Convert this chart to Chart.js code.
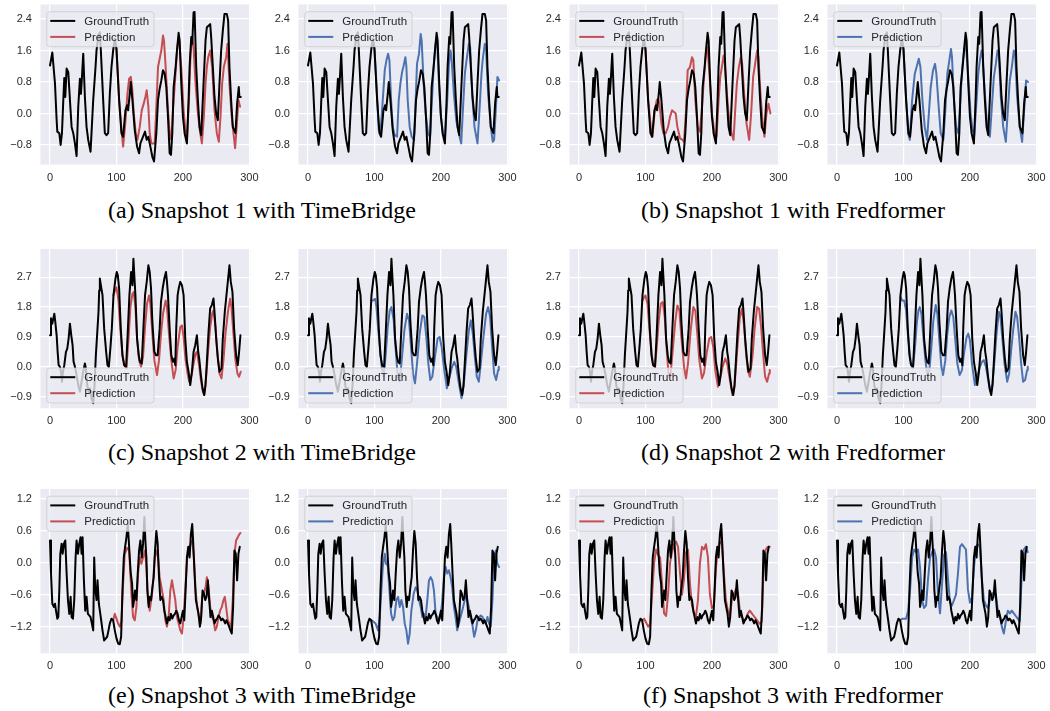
<!DOCTYPE html>
<html><head><meta charset="utf-8">
<script src="https://cdn.jsdelivr.net/npm/chart.js@4"></script>
<style>
html,body{margin:0;padding:0;background:#fff;}
body{width:1050px;height:711px;overflow:hidden;position:relative;}
canvas{position:absolute;}
.cap{position:absolute;font-family:"Liberation Serif","Times New Roman",serif;font-size:24px;line-height:24px;color:#000;white-space:nowrap;transform:translateX(-50%);}
</style></head><body>
<script>
// ---------------- DATA ----------------
const seriesNames = ["GroundTruth", "Prediction"];
const captions = ["(a) Snapshot 1 with TimeBridge", "(b) Snapshot 1 with Fredformer",
  "(c) Snapshot 2 with TimeBridge", "(d) Snapshot 2 with Fredformer",
  "(e) Snapshot 3 with TimeBridge", "(f) Snapshot 3 with Fredformer"];
const xTicks = [0, 100, 200, 300];
const yTicksS1 = [-0.8, 0.0, 0.8, 1.6, 2.4];
const yTicksS2 = [-0.9, 0.0, 0.9, 1.8, 2.7];
const yTicksS3 = [-1.2, -0.6, 0.0, 0.6, 1.2];

const gt1 = [[0,1.22],[3.5,1.55],[7.5,0.76],[10,-0.17],[11,-0.46],[14,-0.5],[16,-0.8],[18,-0.5],[20,0.34],[21.5,0.9],[23,0.42],[25,1.14],[27.5,1.05],[30,0.34],[32.5,-0.34],[35,-0.5],[37.5,-0.76],[40,-1.08],[42.5,0.17],[45,0.88],[46.5,0.5],[48,0.9],[50,1.52],[52.5,0.42],[55,-0.34],[57.5,-0.67],[61,-0.97],[65,0.34],[68.5,1.18],[70,1.6],[73,2.0],[75,2.06],[76.5,1.6],[80,0.34],[82.5,-0.5],[85,-0.55],[87.5,-0.5],[90,0.5],[92.5,1.18],[95,1.6],[97.5,1.9],[100,1.64],[104,0.34],[107.5,-0.5],[110,-0.59],[113.5,0.08],[116,0.21],[117.5,0.08],[120,0.5],[121.5,0.8],[124,0.34],[127.5,-0.42],[131,-0.84],[134,-1.01],[136,-0.76],[140,-0.59],[143,-0.46],[145.5,-0.67],[148,-0.59],[151,-0.84],[154,-1.1],[156.5,-1.22],[160,-0.5],[162.5,0.34],[165,0.63],[167.5,0.84],[170,1.1],[172.5,1.01],[175,0.67],[177.5,-0.08],[180,-1.01],[182,-1.05],[184,-0.5],[186,0.67],[189,1.18],[191,1.6],[193.5,2.05],[195,1.85],[197.5,0.76],[200,-0.08],[202.5,-0.5],[206,-0.76],[208.5,0.34],[210,1.18],[212.5,1.94],[214,1.77],[216,2.57],[217.5,2.58],[220,1.18],[222.5,0.34],[225,-0.34],[227.5,-0.55],[231,0.76],[234,1.85],[236,2.19],[238.5,2.23],[241,2.27],[242.5,1.94],[245,1.18],[247.5,0.42],[250,0],[252.5,-0.17],[255,0.76],[257.5,1.6],[260,2.1],[262.5,2.53],[266,2.53],[268,2.36],[270,1.18],[272.5,0.34],[275,-0.34],[279,-0.5],[281.5,0.25],[284,0.67],[285,0.42],[287,0.42]];

const predA1 = [[97.5,1.9],[100,1.64],[104,0.34],[107.5,-0.4],[110,-0.84],[113,-0.3],[116.5,0.5],[119,0.88],[121.5,0.93],[123.5,0.68],[126,0],[129,-0.5],[131.5,-0.67],[135,-0.34],[138,0.08],[141,0.25],[143.5,0.42],[145.5,0.59],[148,0.17],[150,-0.5],[152.5,-0.76],[157.5,-0.76],[160,0.17],[162.5,1.18],[165,1.39],[167.5,1.6],[170,1.98],[171.5,1.85],[174,1.18],[177.5,0.08],[180,-0.5],[182.5,-0.67],[185,0.08],[188.5,0.93],[191.5,1.68],[194,1.94],[197.5,1.18],[201,0.08],[204,-0.5],[206,-0.67],[209,0.34],[211.5,1.52],[214,1.94],[216,1.68],[219,0.76],[222.5,0],[226,-0.5],[228.5,-0.76],[231.5,-0.08],[234,0.76],[236,1.18],[238,1.43],[241,1.6],[244,1.18],[247.5,0.08],[251,-0.5],[254,-0.72],[256.5,-0.08],[259,0.76],[261.5,1.18],[265,1.43],[267,1.77],[270,0.76],[273,0],[276,-0.5],[278.5,-0.88],[281,-0.3],[283.5,0.34],[286,0.17]];
const predA2 = [[97.5,1.9],[100,1.64],[104,0.42],[106.5,-0.42],[109,-0.5],[112.5,0.34],[115.5,1.1],[118,1.35],[120.5,1.52],[122.5,1.35],[125,0.34],[127.5,-0.34],[130.5,-0.55],[134,-0.59],[136.5,0.34],[139,0.76],[141.5,1.05],[144,1.22],[146.5,1.43],[148,1.2],[150,0.34],[153,-0.34],[156,-0.59],[159.5,-0.67],[162,0.34],[164,1.26],[167,1.52],[169.5,2.02],[171,1.85],[174,0.76],[177,0],[180.5,-0.5],[183.5,-0.59],[186.5,0.34],[189,1.18],[192,1.77],[194,1.94],[197,0.76],[199.5,0],[203,-0.5],[206,-0.63],[209.5,0.34],[212,1.26],[214.5,1.6],[216,1.39],[219.5,0.5],[223,-0.17],[227,-0.5],[230.5,-0.76],[233,0.08],[236,1.01],[238.5,1.35],[242,1.77],[244,1.68],[247,0.5],[250.5,-0.34],[255,-0.76],[258,0.08],[261,1.01],[263,1.39],[266,1.77],[268,1.6],[271,0.5],[275,-0.34],[278,-0.72],[280,-0.67],[282.5,0.08],[285,0.93],[287.5,0.84]];
const predB1 = [[97.5,1.9],[100,1.64],[104,0.34],[108,-0.34],[110.5,-0.59],[114,0.08],[117,0.34],[119,0.38],[121,0.25],[124,-0.25],[127,-0.5],[130.5,-0.5],[134,-0.34],[137,-0.08],[140,0.08],[143,0.04],[145.5,0],[148,-0.34],[152,-0.63],[156,-0.67],[158,-0.72],[161,0.08],[163.5,1.1],[167,1.18],[170,1.43],[172,1.35],[175,0.34],[178.5,-0.34],[182,-0.46],[185,0.17],[188.5,1.01],[191,1.52],[193.5,1.68],[196.5,0.93],[200,0],[203.5,-0.46],[207,-0.59],[210,0.34],[212.5,0.93],[215,1.18],[217.5,1.47],[219.5,1.26],[222.5,0.5],[226,-0.17],[229.5,-0.5],[232.5,-0.67],[235,0.08],[237.5,0.76],[240.5,1.18],[243.5,1.43],[245.5,1.26],[248.5,0.5],[252,-0.25],[256,-0.67],[259,0],[262,0.93],[265,1.26],[268,1.6],[270,1.43],[273,0.5],[276,-0.17],[279,-0.59],[282,0],[285,0.25],[288,0]];
const predB2 = [[97.5,1.9],[100,1.64],[104,0.34],[107,-0.5],[109.5,-0.67],[113,0.34],[117,1.01],[121,1.26],[123,1.39],[125.5,1.18],[128.5,0.34],[132,-0.34],[135.5,-0.67],[138.5,0.08],[141,0.67],[144.5,1.1],[147.5,1.26],[149.5,1.01],[153,0.17],[156,-0.5],[160,-0.67],[163,0.08],[166,1.01],[169,1.35],[171.5,1.64],[173,1.43],[176,0.34],[179,-0.34],[182.5,-0.5],[185,0.17],[188.5,1.18],[191.5,1.6],[194,1.77],[197.5,0.93],[201,0],[204,-0.42],[206.5,-0.55],[210,0.34],[212.5,1.01],[215,1.35],[217.5,1.6],[219,1.47],[222.5,0.5],[226,-0.34],[230,-0.59],[233,0.17],[236,0.93],[239,1.26],[241.5,1.6],[243.5,1.52],[246.5,0.42],[250,-0.34],[254,-0.72],[257,0.08],[260,0.84],[263,1.18],[266,1.6],[268,1.52],[271,0.42],[275,-0.34],[278.5,-0.72],[281.5,0.08],[284.5,0.84],[287.5,0.8]];

const gt2 = [[0,0.95],[1.5,1.46],[3.5,1.3],[5,1.46],[6.5,1.6],[8,1.35],[10,0.95],[11.5,0.45],[13,0.05],[15,0],[16.5,-0.15],[18,-0.45],[19.5,-0.15],[21.5,0.05],[24,0.45],[26,0.55],[28,0.85],[30,1.3],[32,0.95],[34,0.65],[35.5,0.15],[37.5,0],[40,-0.25],[42.5,-0.55],[45,-0.75],[47.5,-0.45],[50,-0.15],[52.5,0.1],[54,-0.05],[56,-0.55],[58,-0.75],[60,-0.65],[62.5,-0.95],[65,-1.1],[67,-0.55],[69,0.35],[71,1.0],[73,1.66],[74,2.3],[75,2.66],[77,2.4],[79,2.16],[81.5,1.15],[84.5,0.45],[86.5,0.05],[88.5,0],[91,0.6],[93,1.15],[95.5,2.16],[98.5,2.66],[100.5,2.86],[102,2.76],[104,2.36],[106.5,1.15],[109,0.35],[111.5,0.05],[114.5,0],[117,1.05],[119.5,2.16],[122,2.86],[124,2.46],[125.5,3.26],[127,2.7],[128.5,2.16],[131,0.85],[133.5,0.35],[135.5,0.15],[138,0.1],[140.5,1.15],[143,2.16],[145.5,2.56],[148,3.06],[150,2.86],[152,2.36],[154,1.36],[157,0.45],[159.5,0.35],[162,0.35],[165,1.15],[167,1.96],[169.5,2.36],[172,2.66],[174.5,2.86],[176,2.56],[177.5,2.16],[180,1.15],[182.5,0.35],[185,0.15],[187,0.25],[188.5,0.05],[190,1.2],[192,2.16],[194,2.4],[196,2.56],[198.5,2.46],[201,2.16],[203.5,0.85],[206,0.15],[208.5,-0.15],[211,-0.55],[213.5,-0.15],[216,0.45],[218.5,0.65],[221,0.95],[223,0.45],[224.5,0.25],[227,-0.25],[229.5,-0.65],[232,-0.85],[234,-0.55],[236,0.15],[238.5,1.05],[241,1.76],[243.5,1.86],[246,2.06],[247.5,1.66],[250,0.85],[252.5,0.25],[255,-0.15],[258,-0.05],[260,0.85],[263,1.66],[265,2.06],[268,2.66],[270,3.06],[272,2.56],[274.5,2.26],[277,1.15],[280,0.35],[282.5,0.05],[284.5,0.45],[286.5,0.95]];

const predC1 = [[95.5,2.16],[98,2.3],[100,2.4],[103,2.0],[106,1.1],[109,0.35],[112,0.05],[115,-0.05],[118,0.8],[121,1.8],[124,2.2],[126,2.25],[128.5,1.8],[131,0.85],[134,0.2],[137,0.0],[140,0.3],[143,1.2],[146,1.9],[149,2.15],[151,1.9],[154,1.0],[157,0.2],[161,-0.25],[164,0.2],[167,1.0],[170,1.6],[174,2.0],[176,1.8],[179,1.0],[182.5,0.2],[186,-0.35],[189,-0.1],[192,0.6],[196,1.2],[198.5,1.25],[201,0.9],[204,0.2],[207,-0.2],[209.5,-0.45],[213,-0.25],[216,0.1],[219,0.4],[221,0.45],[224,0.1],[227,-0.4],[230,-0.75],[232,-0.85],[235,-0.3],[238,0.5],[241,1.2],[244,1.6],[246,1.7],[249,1.2],[252,0.4],[255,-0.2],[258,-0.35],[261,0.2],[264,1.0],[268,1.7],[271,2.05],[273,1.8],[276,1.0],[279,0.2],[282,-0.2],[284.5,-0.3],[287,-0.15]];
const predC2 = [[95.5,2.0],[98,2.0],[101,2.05],[103,1.8],[107,0.8],[111,0.0],[114,-0.3],[117,0.4],[120,1.2],[123,1.7],[125.5,1.8],[129,1.4],[132,0.5],[135,-0.3],[138,-0.45],[141,0.2],[145,1.1],[149,1.6],[152,1.4],[155,0.6],[158,-0.2],[161,-0.5],[164,0.1],[168,1.0],[172,1.55],[175,1.5],[178,0.9],[181,0.1],[184,-0.4],[187,-0.3],[191,0.3],[195,0.85],[198,0.9],[201,0.6],[205,-0.1],[209,-0.65],[212,-0.4],[216,-0.05],[220,0.15],[223,0.0],[227,-0.5],[231,-0.95],[234,-0.6],[238,0.3],[242,1.1],[245,1.4],[248,1.0],[251,0.3],[254,-0.3],[257,-0.45],[260,0.1],[264,0.9],[268,1.6],[271,1.8],[274,1.5],[277,0.6],[280,-0.2],[283,-0.4],[286,-0.1],[287,0.0]];
const predD1 = [[95.5,2.0],[98,2.1],[100,2.15],[103,1.9],[107,0.9],[111,0.1],[114,0.0],[117,0.6],[120,1.4],[123,1.9],[126,1.95],[129,1.5],[132,0.5],[135,-0.3],[138,-0.2],[141,0.5],[145,1.4],[148,1.85],[151,1.7],[154,0.9],[158,0.0],[161,-0.35],[164,0.1],[168,1.1],[172,1.8],[175,1.7],[178,1.0],[181,0.2],[185,-0.35],[188,-0.2],[192,0.4],[196,0.85],[199,0.9],[202,0.6],[205,-0.1],[209,-0.6],[212,-0.4],[216,0.0],[220,0.25],[223,0.1],[227,-0.4],[231,-0.85],[234,-0.6],[238,0.5],[242,1.5],[245,1.75],[248,1.3],[251,0.5],[254,-0.1],[257,-0.3],[261,0.3],[264,1.1],[268,1.8],[271,1.75],[274,1.2],[277,0.4],[280,-0.3],[283,-0.45],[286,-0.2],[287,-0.1]];
const predD2 = [[95.5,2.1],[98,2.0],[101,2.0],[104,1.7],[107,0.9],[111,0.1],[114,-0.05],[117,0.5],[120,1.3],[122.5,1.7],[124.5,1.8],[127,1.6],[130,0.9],[133,0.2],[136,-0.25],[139,-0.1],[142,0.6],[145,1.4],[148.5,1.86],[151,1.6],[154,0.8],[157,0.0],[159.5,-0.25],[163,0.2],[166,1.0],[169,1.5],[172,1.7],[175,1.5],[178,0.8],[181,0.1],[184.5,-0.25],[188,-0.1],[191,0.4],[195,0.9],[197.5,1.0],[200,0.8],[203,0.1],[207.5,-0.55],[211,-0.3],[215,0.0],[218,0.15],[221,0.2],[224,0.0],[227.5,-0.4],[231,-0.75],[234,-0.5],[237,0.2],[240,1.0],[243.5,1.66],[246,1.5],[249,0.8],[252,0.1],[256,-0.45],[259,-0.2],[262,0.5],[265,1.1],[268.5,1.66],[271,1.5],[274,0.9],[277,0.1],[280,-0.45],[283,-0.4],[286,-0.1],[287,0.0]];

const gt3 = [[0,0.42],[1.5,-0.2],[3.5,-0.77],[6,-0.83],[7.5,-0.77],[9,-0.9],[11,-1.05],[12.5,-1.02],[14,-0.52],[15.5,0.17],[17.5,0.36],[19,0.17],[21,0.36],[23,0.42],[25,-0.2],[27,-0.7],[29,-0.96],[31,-0.64],[32.5,-1.02],[34.5,-1.05],[36.5,-0.7],[38.5,0.1],[40,0.42],[42,0.17],[44,0.36],[46,0.48],[47.5,0.17],[49,0.48],[51,-0.33],[53,-0.9],[55,-0.64],[57,-0.96],[59,-0.99],[61,-1.02],[63,-1.14],[65,-1.27],[66.5,0.1],[68,-0.46],[70,-0.7],[71.5,-0.33],[73.5,-0.77],[75,-0.9],[77,-1.08],[79,-1.27],[81.5,-1.46],[84,-1.42],[86,-1.39],[88,-1.27],[90,-1.14],[92.5,-1.05],[95,-1.08],[97.5,-1.27],[100,-1.42],[102.5,-1.52],[105,-1.53],[107,-1.39],[109,-0.52],[111,0.1],[113,0.3],[115,0.48],[117,0.73],[118.5,0.42],[120,0.1],[121.5,-0.2],[123.5,-0.39],[125,-0.83],[126.5,-0.7],[128,-0.52],[130,-0.7],[132,-0.2],[134,0.23],[136,0.42],[138,0.1],[140,0.36],[142,0.86],[143.5,0.42],[145,0.1],[146.5,-0.52],[148.5,-0.83],[150,-0.64],[152,-0.7],[154,-0.46],[156,-0.27],[158,0.23],[160,0.6],[162,0.36],[164,-0.27],[166,-0.7],[168,-0.64],[170,-0.7],[172,-0.9],[174,-1.02],[176,-1.14],[178,-1.02],[180,-1.08],[182,-0.96],[184,-1.05],[186,-0.99],[188,-0.96],[190,-0.9],[192,-0.96],[194,-1.08],[196,-1.14],[198,-1.02],[200,-0.9],[202,-1.08],[204,-0.52],[206,0.1],[208,0.3],[210,0.1],[212,0.54],[214,0.73],[215.5,0.36],[217.5,-0.2],[219.5,-0.7],[221.5,-0.83],[223.5,-0.96],[225.5,-1.2],[227.5,-1.02],[229.5,-0.52],[231.5,-0.58],[233.5,-0.7],[235.5,-0.64],[237.5,-0.33],[239.5,-0.7],[241.5,-1.02],[243.5,-0.9],[245.5,-1.02],[247.5,-1.14],[249.5,-1.08],[251.5,-1.05],[253.5,-0.99],[255.5,-1.02],[257.5,-1.08],[259.5,-1.05],[261.5,-1.08],[263.5,-1.14],[265.5,-1.08],[267.5,-1.14],[269.5,-1.2],[271.5,-1.27],[273.5,-1.33],[275.5,-0.83],[277.5,0.23],[279.5,0.17],[281.5,-0.33],[283.5,0.17],[285.5,0.3]];

const predE1 = [[95,-1.08],[97.5,-0.96],[100,-1.05],[102.5,-1.14],[105,-1.2],[107.5,-1.1],[110,-0.4],[112.5,0.17],[116,0.28],[119,0.23],[122.5,-0.58],[125,-1.02],[127.5,-1.08],[130,-0.83],[132.5,-0.2],[135,0.1],[137.5,-0.02],[140,0.1],[143,0.23],[145,-0.08],[147.5,-0.7],[150,-0.9],[153,-0.64],[155,-0.39],[157.5,0.1],[160,0.23],[162.5,0.1],[165,-0.27],[168.5,-0.52],[171,-0.7],[173.5,-1.08],[176,-1.2],[178.5,-1.02],[181,-0.52],[183.5,-0.33],[186,-0.52],[188.5,-0.7],[191,-1.02],[193.5,-1.14],[196,-1.27],[198.5,-1.33],[201,-1.02],[204,-0.39],[206.5,0.1],[209,0.23],[211.5,0.36],[214,0.42],[216.5,0.1],[219,-0.52],[221.5,-0.83],[224,-1.02],[226.5,-1.14],[229,-0.64],[231.5,-0.58],[234,-0.46],[236,-0.27],[238.5,-0.46],[241,-0.83],[243.5,-1.02],[246,-1.08],[248.5,-1.27],[251,-1.2],[253.5,-1.02],[256,-0.9],[258.5,-0.83],[261,-0.7],[263,-0.64],[265,-0.83],[267.5,-1.08],[270,-1.14],[272.5,-1.2],[275,-0.7],[277.5,0.17],[280,0.42],[282.5,0.48],[285,0.54],[286.5,0.56]];
const predE2 = [[95,-1.08],[98,-1.1],[101.5,-1.14],[105.5,-1.27],[108,-1.0],[110,-0.6],[112.5,-0.08],[115.5,0.17],[117.5,-0.02],[120,-0.05],[122.5,-0.52],[125,-0.96],[127.5,-1.08],[130,-1.02],[133,-0.7],[135.5,-0.64],[138,-0.83],[140.5,-0.7],[143,-0.83],[145.5,-1.14],[148,-1.27],[150.5,-1.52],[153,-1.33],[155.5,-0.9],[159,-0.58],[162,-0.46],[164.5,-0.52],[167,-0.7],[169.5,-0.83],[172,-1.02],[174.5,-0.96],[177,-1.02],[179.5,-0.7],[182,-0.33],[184.5,-0.27],[187,-0.33],[189.5,-0.52],[192,-0.96],[194.5,-1.02],[197,-1.08],[199.5,-1.02],[202,-0.7],[204.5,-0.27],[207,-0.08],[209.5,-0.2],[212,-0.14],[214.5,-0.27],[217,-0.46],[219.5,-0.83],[222,-1.02],[224.5,-1.27],[227,-1.14],[229.5,-1.02],[232,-0.9],[234.5,-0.77],[237,-0.64],[239.5,-0.7],[242,-0.83],[244.5,-1.02],[247,-1.14],[250,-1.39],[252.5,-1.27],[255,-1.08],[257.5,-1.02],[260,-0.99],[262.5,-1.02],[265,-1.08],[267.5,-1.14],[270,-1.02],[272.5,-1.14],[275,-1.2],[277.5,-0.7],[280,0.1],[282.5,0.23],[285,-0.02],[287.5,-0.08]];
const predF1 = [[95,-1.08],[98,-1.05],[100,-1.1],[104,-1.2],[107,-1.15],[110,-0.6],[113,0.0],[116,0.25],[119,0.15],[122,0.1],[125,-0.4],[128,-0.95],[131,-1.0],[134,-0.6],[137,0.0],[140,0.2],[143,0.35],[146,0.4],[149,0.3],[152,-0.2],[155,-0.6],[158,-0.3],[161,0.2],[164,0.25],[167,-0.4],[170,-0.8],[173,-0.95],[176,-1.0],[179,-0.7],[182,0.0],[185,0.3],[188,0.25],[191,0.35],[194,0.1],[197,-0.6],[200,-0.85],[203,-0.8],[206,-0.1],[209,0.25],[212,0.4],[215,0.35],[218,-0.2],[221,-0.7],[224,-0.9],[227,-1.0],[230,-0.7],[233,-0.6],[236,-0.5],[239,-0.55],[242,-0.9],[245,-1.0],[248,-1.1],[251,-1.05],[254,-0.95],[257,-0.9],[260,-0.95],[263,-1.0],[266,-1.05],[269,-1.1],[272,-1.15],[275,-1.1],[278,0.0],[281,0.25],[284,0.3],[287,0.3]];
const predF2 = [[95,-1.08],[98,-1.05],[100,-1.05],[104,-1.05],[107,-0.9],[110,-0.5],[113,0.1],[116,0.25],[119,0.2],[122,0.25],[125,-0.1],[128,-0.7],[131,-0.85],[134,-0.8],[137,-0.3],[140,0.1],[143,0.2],[146,0.25],[149,0.1],[152,-0.6],[155,-0.95],[158,-0.4],[161,0.15],[164,0.2],[167,-0.3],[170,-0.75],[173,-0.8],[176,-0.7],[179,-0.6],[182,-0.2],[185,0.3],[188,0.35],[191,0.3],[194,0.25],[197,-0.5],[200,-0.75],[203,-0.65],[206,-0.1],[209,0.3],[212,0.35],[215,0.3],[218,-0.3],[221,-0.7],[224,-0.8],[227,-0.85],[230,-0.7],[233,-0.6],[236,-0.55],[239,-0.6],[242,-0.9],[245,-1.0],[248,-1.2],[251,-1.33],[254,-1.1],[257,-0.9],[260,-0.95],[263,-0.9],[266,-0.95],[269,-1.0],[272,-1.05],[275,-1.1],[278,-0.2],[281,0.25],[284,0.3],[287,0.2]];

// ---------------- LAYOUT / STYLE ----------------
const groundTruths = [gt1, gt2, gt3];
const predictions = [[predA1, predA2, predB1, predB2], [predC1, predC2, predD1, predD2], [predE1, predE2, predF1, predF2]];
const yTickSets = [yTicksS1, yTicksS2, yTicksS3];
const RED = '#C44E52', BLUE = '#4C72B0', GT_COLOR = '#000000';
const colZero = [50, 308, 579, 837];
const PX_PER_X = 199.4 / 300;
const X_MIN = -14.35, X_MAX = 301.35;
const rowGeom = [
  {top: 4.5, bottom: 164.5, zero: 113.5, ppu: 39.375, legend: 'upper'},
  {top: 249, bottom: 408.3, zero: 366.8, ppu: 33.17, legend: 'lower'},
  {top: 489, bottom: 653.3, zero: 562.8, ppu: 53.2, legend: 'upper'}
];
const capPos = [[262, 198], [793, 198], [262, 440], [793, 440], [262, 683], [793, 683]];
const TICK_FONT = {family: '"Liberation Sans", Arial, sans-serif', size: 11};
const TICK_COLOR = '#2a2a2a';

const bgPlugin = {
  id: 'plotBg',
  beforeDraw(chart) {
    const {ctx, chartArea: a} = chart;
    ctx.save();
    ctx.fillStyle = '#EAEAF2';
    ctx.fillRect(a.left, a.top, a.right - a.left, a.bottom - a.top);
    ctx.restore();
  }
};

function rrect(ctx, x, y, w, h, r) {
  ctx.beginPath();
  ctx.moveTo(x + r, y);
  ctx.lineTo(x + w - r, y); ctx.arcTo(x + w, y, x + w, y + r, r);
  ctx.lineTo(x + w, y + h - r); ctx.arcTo(x + w, y + h, x + w - r, y + h, r);
  ctx.lineTo(x + r, y + h); ctx.arcTo(x, y + h, x, y + h - r, r);
  ctx.lineTo(x, y + r); ctx.arcTo(x, y, x + r, y, r);
  ctx.closePath();
}

const legendPlugin = {
  id: 'boxLegend',
  afterDraw(chart, args, opts) {
    const {ctx, chartArea: a} = chart;
    ctx.save();
    ctx.font = '11.5px "Liberation Sans", Arial, sans-serif';
    let tw = 0;
    chart.data.datasets.forEach(d => { tw = Math.max(tw, ctx.measureText(d.label).width); });
    const w = 37.5 + tw + 5, h = 35;
    const x0 = a.left + 6.3;
    const y0 = opts.pos === 'lower' ? a.bottom - 5.3 - h : a.top + 7.2;
    rrect(ctx, x0, y0, w, h, 3);
    ctx.fillStyle = 'rgba(234,234,242,0.8)';
    ctx.fill();
    ctx.strokeStyle = 'rgba(204,204,204,0.8)';
    ctx.lineWidth = 1;
    ctx.stroke();
    chart.data.datasets.forEach((d, i) => {
      const yy = y0 + 9.2 + i * 16;
      ctx.beginPath();
      ctx.moveTo(x0 + 3.5, yy); ctx.lineTo(x0 + 28.5, yy);
      ctx.strokeStyle = d.borderColor; ctx.lineWidth = 2;
      ctx.stroke();
      ctx.fillStyle = '#262626';
      ctx.textBaseline = 'middle';
      ctx.textAlign = 'left';
      ctx.fillText(d.label, x0 + 37.5, yy + 0.5);
    });
    ctx.restore();
  }
};

function toXY(arr) { return arr.map(p => ({x: p[0], y: p[1]})); }
function fmtY(v) { return v.toFixed(1).replace('-', '\u2212'); }

function makePanel(r, c) {
  const g = rowGeom[r];
  const L = colZero[c] + X_MIN * PX_PER_X;
  const R = colZero[c] + X_MAX * PX_PER_X;
  const T = g.top, B = g.bottom;
  const yMax = (g.zero - T) / g.ppu, yMin = -(B - g.zero) / g.ppu;
  const cx = Math.floor(L) - 45, cy = Math.floor(T) - 20;
  const cw = Math.ceil(R) + 25 - cx, ch = Math.ceil(B) + 25 - cy;
  const cv = document.createElement('canvas');
  cv.width = cw; cv.height = ch;
  cv.style.left = cx + 'px'; cv.style.top = cy + 'px';
  cv.style.width = cw + 'px'; cv.style.height = ch + 'px';
  document.body.appendChild(cv);
  const yAxisW = L - cx, xAxisH = cy + ch - B;
  const predColor = (c % 2 === 0) ? RED : BLUE;
  const yt = yTickSets[r];
  new Chart(cv, {
    type: 'line',
    data: {
      datasets: [
        {label: seriesNames[0], data: toXY(groundTruths[r]), borderColor: GT_COLOR, borderWidth: 2, pointRadius: 0, tension: 0, fill: false},
        {label: seriesNames[1], data: toXY(predictions[r][c]), borderColor: predColor, borderWidth: 2, pointRadius: 0, tension: 0, fill: false}
      ]
    },
    options: {
      responsive: false, animation: false, devicePixelRatio: 1,
      layout: {padding: {left: 0, top: T - cy, right: cx + cw - R, bottom: 0}},
      plugins: {legend: {display: false}, tooltip: {enabled: false}, boxLegend: {pos: g.legend}},
      elements: {line: {borderCapStyle: 'round', borderJoinStyle: 'round'}},
      scales: {
        x: {
          type: 'linear', min: X_MIN, max: X_MAX,
          afterBuildTicks: s => { s.ticks = xTicks.map(v => ({value: v})); },
          afterFit: s => { s.height = xAxisH; },
          ticks: {font: TICK_FONT, color: TICK_COLOR, padding: 6.5, maxRotation: 0, autoSkip: false, callback: v => String(v)},
          grid: {color: '#ffffff', lineWidth: 1.2, drawTicks: false},
          border: {display: false}
        },
        y: {
          type: 'linear', min: yMin, max: yMax,
          afterBuildTicks: s => { s.ticks = yt.map(v => ({value: v})); },
          afterFit: s => { s.width = yAxisW; },
          ticks: {font: TICK_FONT, color: TICK_COLOR, padding: 8.5, autoSkip: false, callback: v => fmtY(v)},
          grid: {color: '#ffffff', lineWidth: 1.2, drawTicks: false},
          border: {display: false}
        }
      }
    },
    plugins: [bgPlugin, legendPlugin]
  });
}

for (let r = 0; r < 3; r++) for (let c = 0; c < 4; c++) makePanel(r, c);

captions.forEach((t, i) => {
  const d = document.createElement('div');
  d.className = 'cap';
  d.textContent = t;
  d.style.left = capPos[i][0] + 'px';
  d.style.top = capPos[i][1] + 'px';
  document.body.appendChild(d);
});
</script>
</body></html>
